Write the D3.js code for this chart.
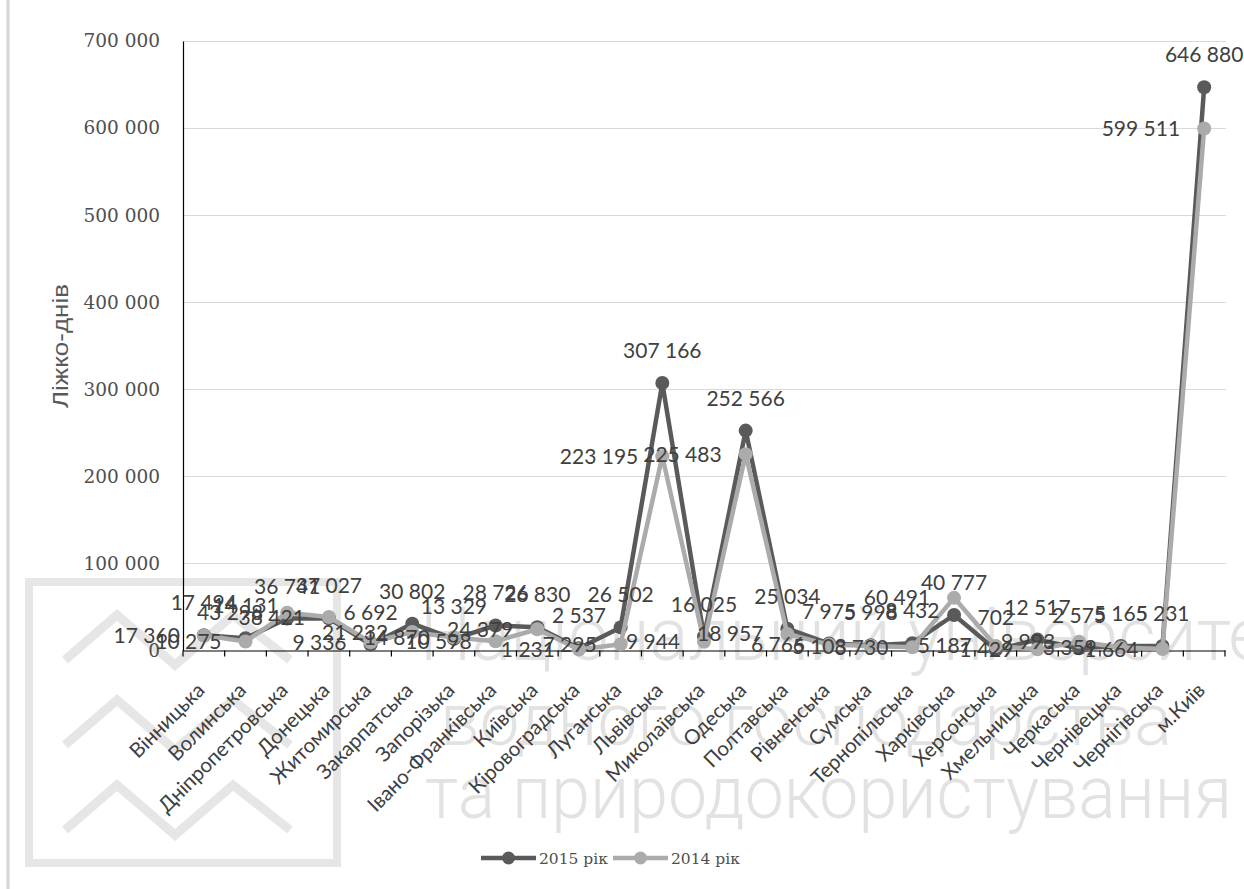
<!DOCTYPE html>
<html>
<head>
<meta charset="utf-8">
<script src="https://cdn.jsdelivr.net/npm/d3@7"></script>
<style>
  body { margin: 0; background: #ffffff; }
  svg { display: block; }
</style>
</head>
<body>
<svg id="chart" width="1244" height="889"></svg>
<script>
// Регіони (області та м. Київ)
const categories = [
  "Вінницька", "Волинська", "Дніпропетровська", "Донецька", "Житомирська",
  "Закарпатська", "Запорізька", "Івано-Франківська", "Київська", "Кіровоградська",
  "Луганська", "Львівська", "Миколаївська", "Одеська", "Полтавська",
  "Рівненська", "Сумська", "Тернопільська", "Харківська", "Херсонська",
  "Хмельницька", "Черкаська", "Чернівецька", "Чернігівська", "м.Київ"
];

// Ліжко-дні, 2015 рік
const values2015 = [
  17494, 14131, 36741, 37027, 6692,
  30802, 13329, 28726, 26830, 2537,
  26502, 307166, 16025, 252566, 25034,
  7975, 5998, 8432, 40777, 702,
  12517, 2575, 5165, 5231, 646880
];

// Ліжко-дні, 2014 рік
const values2014 = [
  17360, 10275, 43298, 38421, 9336,
  21232, 14870, 10598, 24379, 1231,
  7295, 223195, 9944, 225483, 18957,
  6766, 5108, 3730, 60491, 5187,
  1429, 9993, 3359, 1664, 599511
];

const yTicks = [0, 100000, 200000, 300000, 400000, 500000, 600000, 700000];
const seriesNames = ["2015 рік", "2014 рік"];
const yTitle = "Ліжко-днів";
const watermarkLines = ["Національний університет", "водного господарства", "та природокористування"];

const svg = d3.select("#chart");

const plotLeft = 183, plotRight = 1225, plotTop = 41, plotBottom = 650.5;
const x = d3.scaleBand().domain(categories).range([plotLeft, plotRight]).padding(0);
const y = d3.scaleLinear().domain([0, 700000]).range([plotBottom, plotTop]);
const cx = c => x(c) + x.bandwidth() / 2;

const locale = d3.formatLocale({ decimal: ",", thousands: " ", grouping: [3], currency: ["", ""] });
const fmt = locale.format(",d");

const colors = { s2015: "#5a5a5a", s2014: "#ababab" };
const labelFont = "Lato, 'Open Sans', sans-serif";
const serifFont = "'DejaVu Serif', serif";

// ---- background watermark ----
const wm = svg.append("g").attr("class", "watermark");
wm.append("line").attr("x1", 8).attr("x2", 8).attr("y1", 0).attr("y2", 889)
  .attr("stroke", "#d4d4d4").attr("stroke-width", 3);
wm.append("rect").attr("x", 29).attr("y", 582).attr("width", 308).attr("height", 281)
  .attr("fill", "none").attr("stroke", "#e6e6e6").attr("stroke-width", 8);
[0, 85, 170].forEach(dy => {
  wm.append("polyline")
    .attr("points", [[65, 660], [117, 615], [175, 665], [233, 615], [290, 660]]
      .map(p => [p[0], p[1] + dy].join(",")).join(" "))
    .attr("fill", "none").attr("stroke", "#e6e6e6").attr("stroke-width", 9);
});
const wmRows = [
  { x: 420, y: 660, len: 880 },
  { x: 440, y: 745, len: 732 },
  { x: 425, y: 818, len: 807 }
];
wmRows.forEach((r, i) => {
  wm.append("text")
    .attr("x", r.x).attr("y", r.y)
    .attr("textLength", r.len).attr("lengthAdjust", "spacingAndGlyphs")
    .attr("font-family", "Roboto, 'Open Sans', sans-serif")
    .attr("font-weight", 300)
    .attr("font-size", 74)
    .attr("fill", "#e2e2e2")
    .text(watermarkLines[i]);
});

// ---- gridlines ----
svg.append("g").attr("class", "grid")
  .selectAll("line").data(yTicks.filter(t => t > 0)).join("line")
  .attr("x1", plotLeft).attr("x2", plotRight + 1)
  .attr("y1", d => Math.round(y(d)) + 0.5).attr("y2", d => Math.round(y(d)) + 0.5)
  .attr("stroke", "#d9d9d9").attr("stroke-width", 1);

// ---- y axis ----
const yAxis = svg.append("g").attr("transform", `translate(${plotLeft},0)`)
  .call(d3.axisLeft(y).tickValues(yTicks).tickSize(0).tickSizeOuter(0).tickPadding(23).tickFormat(fmt));
yAxis.select(".domain").attr("stroke", "#000").attr("stroke-width", 1.2);
yAxis.selectAll("text")
  .attr("font-family", serifFont).attr("font-size", 18.5)
  .attr("fill", "#4f4f4f").attr("font-weight", 400);

svg.append("text")
  .attr("transform", "translate(68,346) rotate(-90)")
  .attr("text-anchor", "middle")
  .attr("font-family", "'Liberation Sans Narrow', 'Arial Narrow', sans-serif")
  .attr("font-size", 22)
  .attr("textLength", 124).attr("lengthAdjust", "spacingAndGlyphs")
  .attr("fill", "#595959")
  .text(yTitle);

// ---- x axis ----
const xAxis = svg.append("g").attr("transform", `translate(0,${plotBottom})`)
  .call(d3.axisBottom(x).tickSize(0).tickSizeOuter(0).tickFormat(""));
xAxis.select(".domain").attr("stroke", "#000").attr("stroke-width", 1.2);
const boundaries = categories.map(c => x(c)).concat([x.range()[1]]);
svg.append("g").selectAll("line").data(boundaries).join("line")
  .attr("x1", d => d).attr("x2", d => d)
  .attr("y1", plotBottom).attr("y2", plotBottom + 6)
  .attr("stroke", "#000").attr("stroke-width", 1.2);

svg.append("g").attr("class", "x-labels")
  .selectAll("text").data(categories).join("text")
  .attr("transform", c => `translate(${cx(c) + 2},${plotBottom + 41}) rotate(-45)`)
  .attr("text-anchor", "end")
  .attr("font-family", labelFont)
  .attr("font-size", 20.5)
  .attr("fill", "#404040")
  .text(c => c);

// ---- series ----
const series = [
  { name: seriesNames[0], values: values2015, color: colors.s2015 },
  { name: seriesNames[1], values: values2014, color: colors.s2014 }
];
const line = d3.line().x(d => cx(d.c)).y(d => y(d.v));

series.forEach(s => {
  const pts = categories.map((c, i) => ({ c, v: s.values[i] }));
  const g = svg.append("g");
  g.append("path").datum(pts).attr("d", line)
    .attr("fill", "none").attr("stroke", s.color).attr("stroke-width", 4.5)
    .attr("stroke-linejoin", "round");
  g.selectAll("circle").data(pts).join("circle")
    .attr("cx", d => cx(d.c)).attr("cy", d => y(d.v)).attr("r", 7)
    .attr("fill", s.color);
});

// ---- data labels: 2015 above the point, 2014 to the left ----
svg.append("g").selectAll("text").data(categories.map((c, i) => ({ c, v: values2015[i] }))).join("text")
  .attr("x", d => cx(d.c)).attr("y", d => y(d.v) - 25)
  .attr("text-anchor", "middle")
  .attr("font-family", labelFont).attr("font-size", 21).attr("fill", "#404040")
  .text(d => fmt(d.v));

svg.append("g").selectAll("text").data(categories.map((c, i) => ({ c, v: values2014[i] }))).join("text")
  .attr("x", d => cx(d.c) - 24).attr("y", d => y(d.v) + 7.5)
  .attr("text-anchor", "end")
  .attr("font-family", labelFont).attr("font-size", 21).attr("fill", "#404040")
  .text(d => fmt(d.v));

// ---- legend ----
const legend = svg.append("g").attr("transform", "translate(0,858)");
const legendItems = [
  { name: seriesNames[0], color: colors.s2015, x0: 481 },
  { name: seriesNames[1], color: colors.s2014, x0: 613 }
];
legendItems.forEach(it => {
  legend.append("line").attr("x1", it.x0).attr("x2", it.x0 + 55).attr("y1", 0).attr("y2", 0)
    .attr("stroke", it.color).attr("stroke-width", 4.5);
  legend.append("circle").attr("cx", it.x0 + 27.5).attr("cy", 0).attr("r", 6.5).attr("fill", it.color);
  legend.append("text").attr("x", it.x0 + 58).attr("y", 5.5)
    .attr("font-family", serifFont).attr("font-size", 15.5).attr("fill", "#4f4f4f")
    .text(it.name);
});
</script>
</body>
</html>
